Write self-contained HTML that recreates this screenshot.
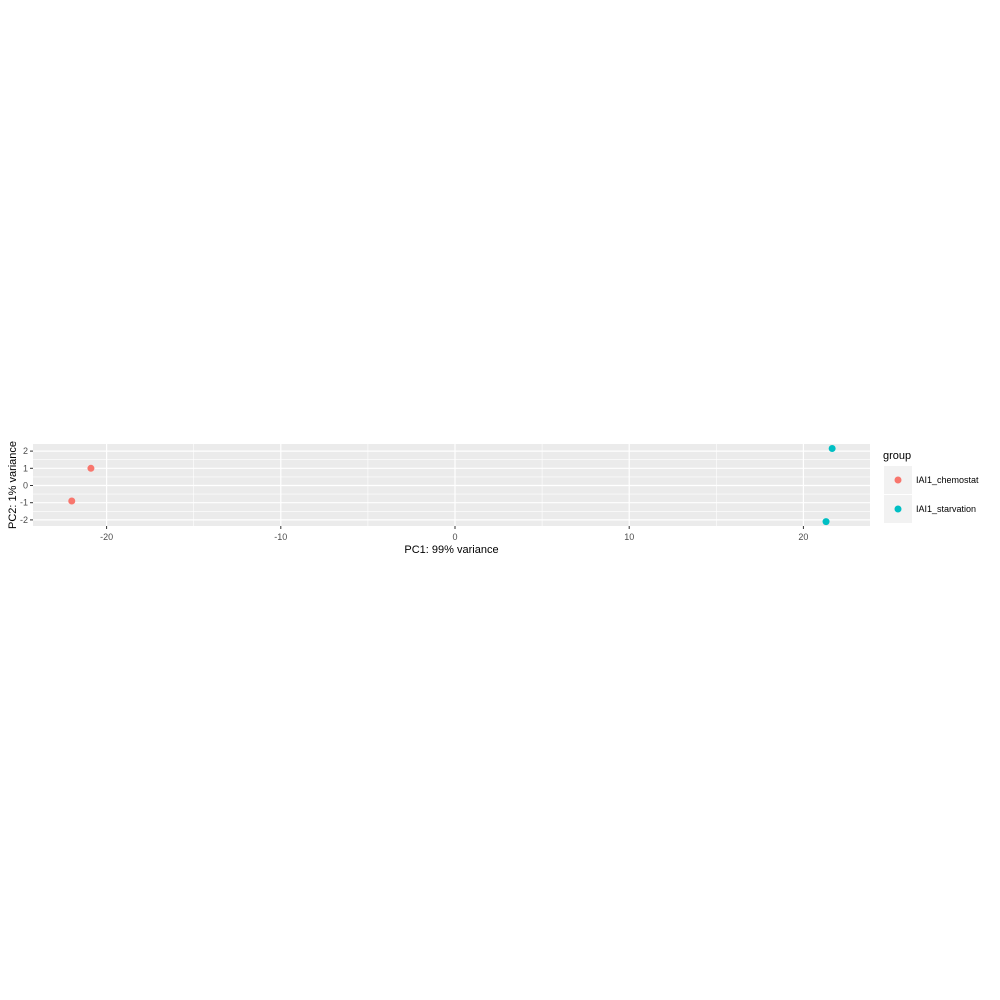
<!DOCTYPE html>
<html><head><meta charset="utf-8"><style>
body{margin:0;background:#fff;}
svg{display:block;font-family:"Liberation Sans",Arial,sans-serif;}
</style></head><body>
<svg id="chart" width="1000" height="1000">
<rect x="0" y="0" width="1000" height="1000" fill="#fff"/>
</svg>
<script>
const groups = ["IAI1_chemostat","IAI1_chemostat","IAI1_starvation","IAI1_starvation"];
const pc1 = [-20.9, -22.0, 21.65, 21.3];
const pc2 = [1.0, -0.9, 2.15, -2.1];
const xTicks = [-20, -10, 0, 10, 20];
const yTicks = [-2, -1, 0, 1, 2];
const legendGroups = ["IAI1_chemostat","IAI1_starvation"];
const legendColors = ["#F8766D","#00BFC4"];

const NS="http://www.w3.org/2000/svg";
const svg=document.getElementById('chart');
const PL=33,PR=870,PT=444,PB=526;
const sx=v=>455+v*17.42;
const sy=v=>485.5-v*17.2;
function mk(t,a,p){const e=document.createElementNS(NS,t);for(const k in a)e.setAttribute(k,a[k]);(p||svg).appendChild(e);return e;}
const panel=mk('rect',{x:PL,y:PT,width:PR-PL,height:PB-PT,fill:'#EBEBEB'});


// minor grid
for(let i=0;i<xTicks.length-1;i++){const v=(xTicks[i]+xTicks[i+1])/2;const l=mk('line',{x1:sx(v),x2:sx(v),y1:PT,y2:PB,stroke:'#fff','stroke-width':0.6});

}
const xm=[xTicks[0]-5,xTicks[xTicks.length-1]+5];
xm.forEach(v=>{const X=sx(v);if(X>PL&&X<PR){const l=mk('line',{x1:X,x2:X,y1:PT,y2:PB,stroke:'#fff','stroke-width':0.6});

}});
for(let i=0;i<yTicks.length-1;i++){const v=(yTicks[i]+yTicks[i+1])/2;const l=mk('line',{x1:PL,x2:PR,y1:sy(v),y2:sy(v),stroke:'#fff','stroke-width':0.6});

}
// major grid + ticks
xTicks.forEach(v=>{const X=sx(v);
const g=mk('line',{x1:X,x2:X,y1:PT,y2:PB,stroke:'#fff','stroke-width':1.2});


const t=mk('line',{x1:X,x2:X,y1:PB,y2:PB+3,stroke:'#333','stroke-width':1});


const tx=mk('text',{x:X,y:PB+14,'font-size':9,fill:'#4D4D4D','text-anchor':'middle'});tx.textContent=v;

});
yTicks.forEach(v=>{const Y=sy(v);
const g=mk('line',{x1:PL,x2:PR,y1:Y,y2:Y,stroke:'#fff','stroke-width':1.2});


const t=mk('line',{x1:PL-3,x2:PL,y1:Y,y2:Y,stroke:'#333','stroke-width':1});


const tx=mk('text',{x:PL-5,y:Y+3,'font-size':9,fill:'#4D4D4D','text-anchor':'end'});tx.textContent=v;

});
// points
pc1.forEach((v,i)=>{const c=mk('circle',{cx:sx(v),cy:sy(pc2[i]),r:3.5,fill:legendColors[legendGroups.indexOf(groups[i])]});

});
// axis titles
const xt=mk('text',{x:(PL+PR)/2,y:553,'font-size':11,fill:'#000','text-anchor':'middle'});xt.textContent='PC1: 99% variance';


const yt=mk('text',{x:0,y:0,'font-size':11,fill:'#000','text-anchor':'middle',transform:`translate(16,${(PT+PB)/2}) rotate(-90)`});yt.textContent='PC2: 1% variance';


// legend
const lt=mk('text',{x:883,y:459,'font-size':11,fill:'#000'});lt.textContent='group';


legendGroups.forEach((g,i)=>{const y0=466+i*29;
const k=mk('rect',{x:884,y:y0,width:28,height:28,fill:'#F2F2F2'});


const c=mk('circle',{cx:898,cy:y0+14,r:3.5,fill:legendColors[i]});


const t=mk('text',{x:916,y:y0+17,'font-size':9,fill:'#000'});t.textContent=g;

});
</script>
</body></html>
